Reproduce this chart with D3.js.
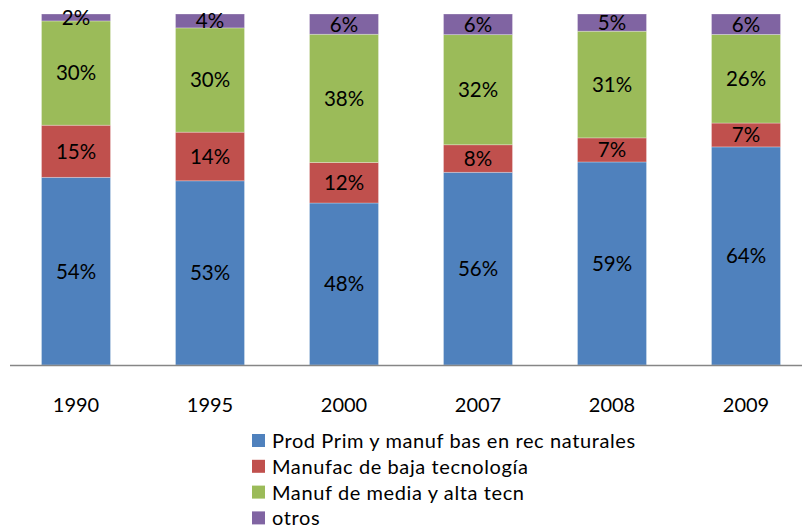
<!DOCTYPE html>
<html>
<head>
<meta charset="utf-8">
<script src="https://cdn.jsdelivr.net/npm/d3@7"></script>
<style>
  body { margin: 0; background: #fff; }
  text { font-family: Lato, "Open Sans", sans-serif; fill: #000; }
</style>
</head>
<body>
<div id="chart"></div>
<script>
// Data
var years = ["1990", "1995", "2000", "2007", "2008", "2009"];
var seriesNames = [
  "Prod Prim y manuf bas en rec naturales",
  "Manufac de baja tecnología",
  "Manuf de media y alta tecn",
  "otros"
];
var prodPrim = [54, 53, 48, 56, 59, 64];
var manufBaja = [15, 14, 12, 8, 7, 7];
var manufMedia = [30, 30, 38, 32, 31, 26];
var otros = [2, 4, 6, 6, 5, 6];

var colors = ["#4F81BD", "#C0504D", "#9BBB59", "#8064A2"];

var width = 802;
var height = 529;
var keys = ["prodPrim", "manufBaja", "manufMedia", "otros"];

// Build rows for d3.stack
var rows = years.map(function(y, i) {
  return {
    year: y,
    prodPrim: prodPrim[i],
    manufBaja: manufBaja[i],
    manufMedia: manufMedia[i],
    otros: otros[i]
  };
});

var svg = d3.select("#chart")
  .append("svg")
  .attr("width", width)
  .attr("height", height);

// 100% stacked, like the original
var stacked = d3.stack()
  .keys(keys)
  .offset(d3.stackOffsetExpand)(rows);

var xScale = d3.scaleBand()
  .domain(years)
  .range([9, 813])
  .paddingInner(0.485)
  .paddingOuter(0.2425);

var yScale = d3.scaleLinear()
  .domain([0, 1])
  .range([365, 14]);

var layers = svg.selectAll("g.layer")
  .data(stacked)
  .enter()
  .append("g")
  .attr("class", "layer")
  .attr("fill", function(d, i) { return colors[i]; });

layers.selectAll("rect")
  .data(function(d) { return d; })
  .enter()
  .append("rect")
  .attr("x", function(d) { return xScale(d.data.year); })
  .attr("y", function(d) { return yScale(d[1]); })
  .attr("width", xScale.bandwidth())
  .attr("height", function(d) { return yScale(d[0]) - yScale(d[1]); })
  .attr("stroke", "rgba(255,255,255,0.35)")
  .attr("stroke-width", 0.8);

// value labels, centred in each segment
layers.each(function(layer) {
  var key = layer.key;
  d3.select(this).selectAll("text")
    .data(layer)
    .enter()
    .append("text")
    .attr("x", function(d) { return xScale(d.data.year) + xScale.bandwidth() / 2; })
    .attr("y", function(d) { return (yScale(d[0]) + yScale(d[1])) / 2; })
    .attr("dy", "0.36em")
    .attr("text-anchor", "middle")
    .attr("font-size", 20.5)
    .text(function(d) { return d.data[key] + "%"; });
});

// x axis
var xAxis = d3.axisBottom(xScale).tickSize(0).tickPadding(0);
var gx = svg.append("g")
  .attr("transform", "translate(0,365.5)")
  .call(xAxis);
gx.select(".domain").remove();
gx.selectAll("text")
  .attr("font-size", 20)
  .attr("font-family", "Lato, sans-serif")
  .attr("fill", "#000")
  .attr("dy", null)
  .attr("y", 46);

svg.append("line")
  .attr("x1", 10)
  .attr("x2", 802)
  .attr("y1", 365.5)
  .attr("y2", 365.5)
  .attr("stroke", "#868686")
  .attr("stroke-width", 1.3);

// legend
var legend = svg.append("g")
  .attr("transform", "translate(252,434)");

var item = legend.selectAll("g")
  .data(seriesNames)
  .enter()
  .append("g")
  .attr("transform", function(d, i) { return "translate(0," + (i * 25.8) + ")"; });

item.append("rect")
  .attr("width", 13)
  .attr("height", 13)
  .attr("fill", function(d, i) { return colors[i]; });

item.append("text")
  .attr("x", 20)
  .attr("y", 14)
  .attr("font-size", 20)
  .attr("letter-spacing", 0.6)
  .text(function(d) { return d; });
</script>
</body>
</html>
